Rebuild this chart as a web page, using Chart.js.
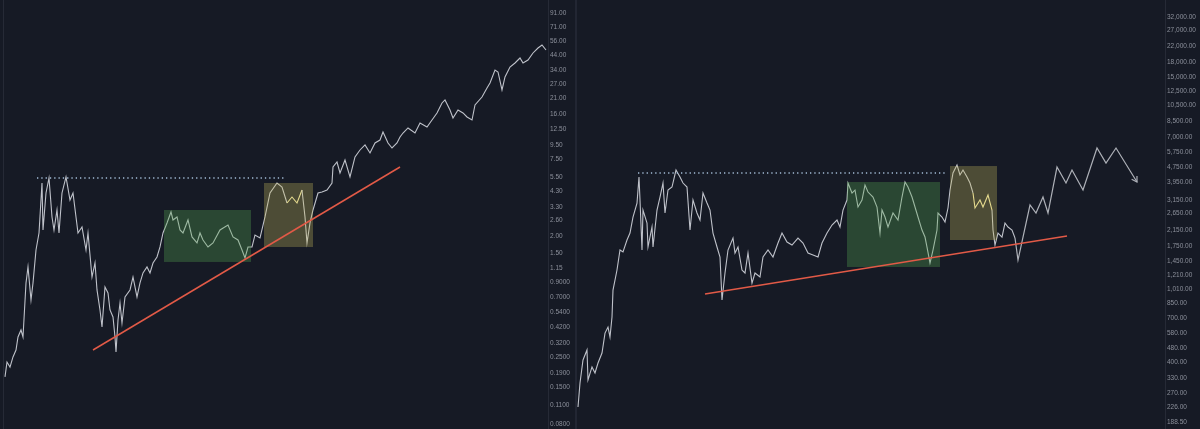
<!DOCTYPE html>
<html>
<head>
<meta charset="utf-8">
<script src="https://cdn.jsdelivr.net/npm/chart.js@4.4.1/dist/chart.umd.min.js"></script>
<style>
  html, body { margin: 0; padding: 0; background: #161a25; width: 1200px; height: 429px; overflow: hidden; }
  .panel { position: absolute; top: 0; height: 429px; }
  #sepA { position: absolute; left: 575px; top: 0; width: 2px; height: 429px; background: #222633; }
  #sepB { position: absolute; left: 3px; top: 0; width: 1px; height: 429px; background: #262a36; }
</style>
</head>
<body>
<div id="sepB"></div>
<div id="sepA"></div>
<div class="panel" style="left:0;width:575px"><canvas id="left" width="575" height="429"></canvas></div>
<div class="panel" style="left:577px;width:623px"><canvas id="right" width="623" height="429"></canvas></div>
<script>
// ---------- LEFT PANEL DATA ----------
const leftWeeks = [5,7,10,13,16,18,21,23,26,28,31,33,36,39,42,43,46,49,52,54,57,59,62,66,70,73,78,82,86,88,92,95,97,100,102,105,108,110,113,115,116,118,120,122,125,130,133,137,140,143,147,150,153,157,160,163,167,171,173,177,180,183,188,192,197,200,203,208,213,220,228,233,238,242,245,248,252,255,260,265,270,277,282,287,292,297,302,305,307,310,313,318,322,327,332,333,337,340,345,350,355,360,365,370,375,380,383,388,392,397,400,403,408,415,420,427,432,437,442,445,450,453,458,463,467,472,475,482,487,490,495,498,502,505,510,515,520,523,528,533,538,542,546];
const leftPrice = [0.179,0.231,0.212,0.252,0.284,0.355,0.400,0.355,0.895,1.177,0.669,0.895,1.574,2.106,4.958,2.217,4.178,5.401,2.770,2.217,3.123,2.106,4.178,5.495,3.706,4.178,2.106,2.334,1.574,2.106,0.991,1.26,0.794,0.5635,0.421,0.835,0.754,0.5635,0.500,0.355,0.2745,0.475,0.635,0.451,0.704,0.794,0.991,0.704,0.895,1.062,1.177,1.062,1.26,1.396,1.657,2.106,2.50,3.017,2.631,2.770,2.217,2.106,2.631,1.967,1.775,2.106,1.868,1.657,1.775,2.217,2.415,1.967,1.868,1.574,1.373,1.657,1.657,2.035,1.933,2.770,4.178,4.958,4.630,3.520,3.901,3.520,4.398,2.770,1.775,2.50,3.123,4.178,4.250,4.398,4.958,6.521,7.104,5.884,7.351,5.495,7.739,8.724,9.504,8.287,9.835,10.35,11.87,9.835,9.028,9.835,10.90,11.67,12.72,11.67,13.85,12.94,14.58,16.44,19.51,20.54,17.30,15.09,17.30,16.44,15.35,14.58,18.85,21.62,25.22,27.48,34.32,33.17,24.38,30.45,36.13,38.70,42.16,38.70,40.74,45.93,50.03,52.67,48.35];
const leftTicks = [0.08,0.11,0.15,0.19,0.25,0.32,0.42,0.54,0.70,0.90,1.15,1.50,2.00,2.60,3.30,4.30,5.50,7.50,9.50,12.50,16,21,27,34,44,56,71,91];
const leftTrendWeeks = [93, 400];
const leftTrendPrice = [0.284, 6.521];
const leftTopWeeks = [37, 285];
const leftTopPrice = [5.40, 5.40];
const leftGreenBox = {weeks:[164,251], price:[1.282,3.123]};
const leftYellowBox = {weeks:[264,313], price:[1.657,4.958]};
const leftFlagWeeks = [286, 303];

// ---------- RIGHT PANEL DATA ----------
const rightWeeks = [578,580,583,587,588,592,595,598,602,605,608,610,612,613,617,620,623,627,630,633,637,639,640,642,643,647,648,652,653,657,660,663,665,668,672,676,680,683,687,690,693,697,700,703,707,710,713,717,720,722,725,728,733,735,738,742,745,748,752,755,760,763,768,773,778,782,787,792,798,803,808,813,818,822,827,832,837,840,843,847,848,852,855,858,862,865,868,873,877,880,882,885,888,893,898,902,905,908,912,915,918,922,925,927,930,933,937,938,942,945,948,950,953,957,960,963,967,970,973,975,980,983,988,992,993,995,998,1002,1005,1008,1012,1015];
const rightPrice = [228,309,414,470,321,379,351,398,452,582,628,554,713,1004,1294,1667,1626,1893,2068,2533,3025,4206,3142,1667,2768,2348,1732,2232,1732,2768,3264,3898,2665,3567,3705,4596,4206,3898,3705,2148,3142,2665,2439,3434,3025,2768,2068,1732,1526,885,1246,1667,1941,1605,1732,1294,1246,1605,1097,1246,1184,1526,1667,1526,1822,2068,1845,1776,1941,1822,1605,1565,1526,1822,2068,2289,2439,2232,2768,3142,3898,3434,3567,2876,3142,3800,3478,3264,2876,2068,2768,2533,2232,2665,2439,3264,3948,3705,3264,2876,2533,2148,1966,1732,1414,1667,2148,2665,2533,2378,2839,3567,4425,4897,4314,4596,4206,3898,3434,2839,3142,2876,3348,2768,2148,1776,2068,1966,2348,2232,2148,1941];
const rightProjWeeks = [1015,1018,1030,1036,1043,1048,1057,1066,1072,1083,1097,1106,1116,1137];
const rightProjPrice = [1941,1469,2950,2665,3264,2665,4775,3898,4596,3567,6076,5023,6076,3948];
const rightTicks = [188.5,226,270,330,400,480,580,700,850,1010,1210,1450,1750,2150,2650,3150,3950,4750,5750,7000,8500,10500,12500,15000,18000,22000,27000,32000];
const rightTrendWeeks = [705, 1067];
const rightTrendPrice = [955, 1992];
const rightTopWeeks = [638, 947];
const rightTopPrice = [4425, 4425];
const rightGreenBox = {weeks:[847,940], price:[1345,3948]};
const rightYellowBox = {weeks:[950,997], price:[1893,4835]};
const rightFlagWeeks = [973, 992];

// ---------- STYLE ----------
const PRICE_COLOR = '#bfc2ca';
const FLAG_COLOR = '#efe6a2';
const TREND_COLOR = '#e25a47';
const DOT_COLOR = '#a3bcd6';
const PROJ_COLOR = '#aeb1b8';
const GREEN_FILL = 'rgba(88,168,80,0.32)';
const YELLOW_FILL = 'rgba(205,192,95,0.30)';
const LABEL_COLOR = '#8c909b';

function pts(xs, ys) { return xs.map((x, i) => ({x: x, y: ys[i]})); }

function fmtLeft(v) { return v < 1 ? v.toFixed(4) : v.toFixed(2); }
function fmtRight(v) { return v.toLocaleString('en-US', {minimumFractionDigits: 2, maximumFractionDigits: 2}); }

function makeChart(id, cfg) {
  const boxesPlugin = {
    id: 'boxes' + id,
    afterDatasetDraw(chart, args) {
      if (args.index !== 0) return;
      const ctx = chart.ctx, xs = chart.scales.x, ys = chart.scales.y;
      ctx.save();
      cfg.boxes.forEach(b => {
        const x0 = xs.getPixelForValue(b.weeks[0]), x1 = xs.getPixelForValue(b.weeks[1]);
        const y0 = ys.getPixelForValue(b.price[1]), y1 = ys.getPixelForValue(b.price[0]);
        ctx.fillStyle = b.color;
        ctx.fillRect(x0, y0, x1 - x0, y1 - y0);
      });
      ctx.restore();
    },
    afterDraw(chart) {
      if (!cfg.proj) return;
      const meta = chart.getDatasetMeta(1);
      const n = meta.data.length;
      const a = meta.data[n - 2], b = meta.data[n - 1];
      const ang = Math.atan2(b.y - a.y, b.x - a.x);
      const ctx = chart.ctx;
      ctx.save();
      ctx.strokeStyle = PROJ_COLOR;
      ctx.lineWidth = 1.2;
      ctx.beginPath();
      const L = 6;
      ctx.moveTo(b.x - L * Math.cos(ang - 0.55), b.y - L * Math.sin(ang - 0.55));
      ctx.lineTo(b.x, b.y);
      ctx.lineTo(b.x - L * Math.cos(ang + 0.55), b.y - L * Math.sin(ang + 0.55));
      ctx.stroke();
      ctx.restore();
    }
  };

  const datasets = [
    {
      data: pts(cfg.weeks, cfg.price),
      borderColor: PRICE_COLOR, borderWidth: 1.1, pointRadius: 0, tension: 0, order: 5,
      segment: {
        borderColor: c => (c.p0.parsed.x >= cfg.flag[0] && c.p1.parsed.x <= cfg.flag[1]) ? FLAG_COLOR : PRICE_COLOR
      }
    },
    {
      data: cfg.proj ? pts(cfg.proj.weeks, cfg.proj.price) : [],
      borderColor: PROJ_COLOR, borderWidth: 1.2, pointRadius: 0, tension: 0, order: 4
    },
    {
      data: pts(cfg.trend.weeks, cfg.trend.price),
      borderColor: TREND_COLOR, borderWidth: 1.5, pointRadius: 0, tension: 0, order: 2
    },
    {
      data: pts(cfg.top.weeks, cfg.top.price),
      borderColor: DOT_COLOR, borderWidth: 1.3, borderDash: [1.3, 3], pointRadius: 0, tension: 0, order: 1
    }
  ];

  return new Chart(document.getElementById(id), {
    type: 'line',
    data: { datasets: datasets },
    plugins: [boxesPlugin],
    options: {
      responsive: false,
      maintainAspectRatio: false,
      animation: false,
      layout: { padding: 0 },
      plugins: { legend: { display: false }, tooltip: { enabled: false } },
      scales: {
        x: { type: 'linear', display: false, min: cfg.xmin, max: cfg.xmax },
        y: {
          type: 'logarithmic',
          position: 'right',
          min: cfg.ymin, max: cfg.ymax,
          grid: { display: false, drawTicks: false },
          border: { display: true, color: '#262a36', width: 1 },
          afterBuildTicks: axis => { axis.ticks = cfg.ticks.map(v => ({ value: v })); },
          afterFit: axis => { axis.width = cfg.axisWidth; axis.paddingTop = 0; axis.paddingBottom = 0; },
          ticks: {
            autoSkip: false,
            padding: 2,
            color: LABEL_COLOR,
            font: { family: 'Liberation Sans, Arial, sans-serif', size: 6.5 },
            callback: v => cfg.fmt(v)
          }
        }
      }
    }
  });
}

makeChart('left', {
  weeks: leftWeeks, price: leftPrice, ticks: leftTicks, fmt: fmtLeft,
  trend: { weeks: leftTrendWeeks, price: leftTrendPrice },
  top: { weeks: leftTopWeeks, price: leftTopPrice },
  boxes: [
    { weeks: leftGreenBox.weeks, price: leftGreenBox.price, color: GREEN_FILL },
    { weeks: leftYellowBox.weeks, price: leftYellowBox.price, color: YELLOW_FILL }
  ],
  flag: leftFlagWeeks,
  proj: null,
  xmin: 0, xmax: 548,
  ymin: 0.0734, ymax: 113.8,
  axisWidth: 27
});

makeChart('right', {
  weeks: rightWeeks, price: rightPrice, ticks: rightTicks, fmt: fmtRight,
  trend: { weeks: rightTrendWeeks, price: rightTrendPrice },
  top: { weeks: rightTopWeeks, price: rightTopPrice },
  boxes: [
    { weeks: rightGreenBox.weeks, price: rightGreenBox.price, color: GREEN_FILL },
    { weeks: rightYellowBox.weeks, price: rightYellowBox.price, color: YELLOW_FILL }
  ],
  flag: rightFlagWeeks,
  proj: { weeks: rightProjWeeks, price: rightProjPrice },
  xmin: 577, xmax: 1165,
  ymin: 172.5, ymax: 39660,
  axisWidth: 35
});
</script>
</body>
</html>
